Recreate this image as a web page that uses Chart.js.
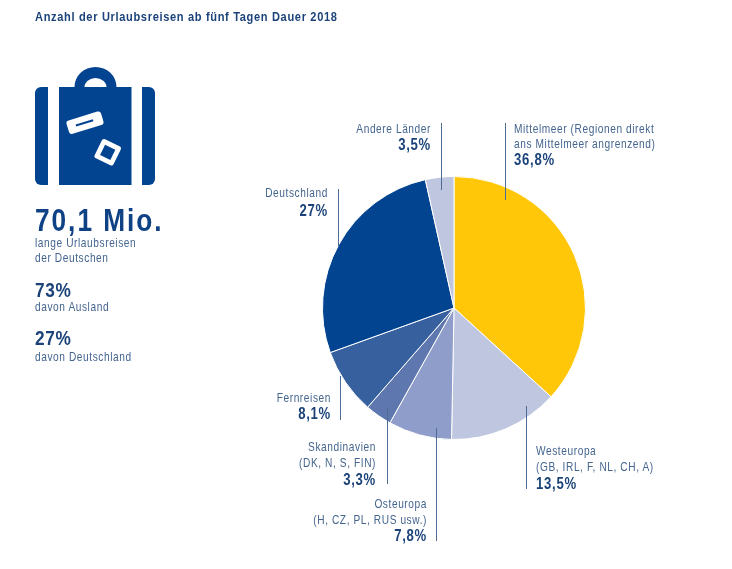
<!DOCTYPE html>
<html lang="de">
<head>
<meta charset="utf-8">
<title>Urlaubsreisen 2018</title>
<script src="https://cdn.jsdelivr.net/npm/chart.js@4"></script>
<style>
  html, body { margin: 0; padding: 0; background: #fff; }
  #page { position: relative; width: 732px; height: 569px; overflow: hidden; font-family: "Liberation Sans", sans-serif; }
  #pie { position: absolute; left: 0; top: 0; }
  .t { position: absolute; white-space: nowrap; color: #44658f; font-size: 13px; letter-spacing: 0.75px; line-height: 16px; transform-origin: left center; transform: translateY(-50%) scaleX(0.78); }
  .t.r { transform-origin: right center; transform: translate(-100%, -50%) scaleX(0.78); text-align: right; }
  .t.b { color: #1b4379; font-weight: bold; font-size: 16px; letter-spacing: 0.9px; transform: translateY(-50%) scaleX(0.82); }
  .t.r.b { transform: translate(-100%, -50%) scaleX(0.82); }
  svg { position: absolute; left: 0; top: 0; }
</style>
</head>
<body>
<div id="page">
  <canvas id="pie" width="732" height="569"></canvas>
  <svg width="200" height="200" viewBox="0 0 200 200">
    <path d="M74.5 87 A21 20 0 0 1 116.5 87 L106.500 87 A11 9 0 0 0 84.500 87 Z" fill="#034491"/>
    <path d="M48 87 V185 H41 A6 6 0 0 1 35 179 V93 A6 6 0 0 1 41 87 Z" fill="#034491"/>
    <rect x="59" y="87" width="72.5" height="98" fill="#034491"/>
    <path d="M142 87 H149 A6 6 0 0 1 155 93 V179 A6 6 0 0 1 149 185 H142 Z" fill="#034491"/>
    <g transform="rotate(-17 85 122.700)">
      <rect x="67" y="115.700" width="36" height="14" rx="3" fill="#fff"/>
      <rect x="75.500" y="121.700" width="18" height="2" fill="#034491"/>
    </g>
    <g transform="rotate(26 107.700 152.300)">
      <rect x="97.200" y="141.800" width="21" height="21" rx="2.500" fill="#fff"/>
      <rect x="102" y="146.600" width="11.400" height="11.400" fill="#034491"/>
    </g>
  </svg>
  <div id="texts"></div>
</div>
<script>
// Anteile der Reiseziele, im Uhrzeigersinn ab 12 Uhr
const regions = ['Mittelmeer', 'Westeuropa', 'Osteuropa', 'Skandinavien', 'Fernreisen', 'Deutschland', 'Andere Länder'];
const shares = [36.8, 13.5, 7.8, 3.3, 8.1, 27, 3.5];
const sliceColors = ['#ffc708', '#bfc6e0', '#8e9dc9', '#5f77af', '#37609f', '#034491', '#bfc6e0'];

// Hinweislinien: x, y von, y bis
const leaders = [
  [505, 123, 200],
  [526, 406, 489],
  [436, 428, 541],
  [387, 408, 484],
  [340, 376, 420],
  [338, 189, 246],
  [441, 123, 190]
];
const leaderColor = '#4d6c96';

// Beschriftungen: Text, x, y (Mitte), Klasse
const labels = [
  ['Anzahl der Urlaubsreisen ab fünf Tagen Dauer 2018', 35, 17, 'b title'],
  ['70,1 Mio.', 35, 220, 'b big'],
  ['lange Urlaubsreisen', 35, 243, ''],
  ['der Deutschen', 35, 258, ''],
  ['73%', 35, 290, 'b mid'],
  ['davon Ausland', 35, 307, ''],
  ['27%', 35, 338, 'b mid'],
  ['davon Deutschland', 35, 357, ''],
  ['Andere Länder', 431, 129, 'r'],
  ['3,5%', 431, 145, 'r b'],
  ['Mittelmeer (Regionen direkt', 514, 129, ''],
  ['ans Mittelmeer angrenzend)', 514, 144, ''],
  ['36,8%', 514, 160, 'b'],
  ['Deutschland', 328, 193, 'r'],
  ['27%', 328, 211, 'r b'],
  ['Fernreisen', 331, 398, 'r'],
  ['8,1%', 331, 414, 'r b'],
  ['Skandinavien', 376, 447, 'r'],
  ['(DK, N, S, FIN)', 376, 463, 'r'],
  ['3,3%', 376, 480, 'r b'],
  ['Osteuropa', 427, 504, 'r'],
  ['(H, CZ, PL, RUS usw.)', 427, 520, 'r'],
  ['7,8%', 427, 536, 'r b'],
  ['Westeuropa', 536, 451, ''],
  ['(GB, IRL, F, NL, CH, A)', 536, 467, ''],
  ['13,5%', 536, 484, 'b']
];

const box = document.getElementById('texts');
labels.forEach(([text, x, y, cls]) => {
  const el = document.createElement('div');
  el.className = 't ' + cls;
  el.textContent = text;
  el.style.left = x + 'px';
  el.style.top = y + 'px';
  if (cls.includes('title')) { el.style.fontSize = '13.5px'; el.style.letterSpacing = '0.8px'; }
  if (cls.includes('big')) { el.style.fontSize = '32px'; el.style.letterSpacing = '2.4px'; el.style.lineHeight = '36px'; el.style.color = '#0f4285'; }
  if (cls.includes('mid')) { el.style.fontSize = '21px'; el.style.letterSpacing = '0.8px'; el.style.lineHeight = '24px'; }
  box.appendChild(el);
});

const leaderPlugin = {
  id: 'leaderLines',
  afterDatasetsDraw(chart) {
    const ctx = chart.ctx;
    ctx.save();
    ctx.strokeStyle = leaderColor;
    ctx.lineWidth = 1;
    leaders.forEach(([x, y1, y2]) => {
      ctx.beginPath();
      ctx.moveTo(x + 0.5, y1);
      ctx.lineTo(x + 0.5, y2);
      ctx.stroke();
    });
    ctx.restore();
  }
};

new Chart(document.getElementById('pie'), {
  type: 'pie',
  data: {
    labels: regions,
    datasets: [{
      data: shares,
      backgroundColor: sliceColors,
      borderColor: '#ffffff',
      borderWidth: 1
    }]
  },
  options: {
    responsive: false,
    animation: false,
    layout: { padding: { left: 322, right: 146, top: 176, bottom: 129 } },
    plugins: { legend: { display: false }, tooltip: { enabled: false } }
  },
  plugins: [leaderPlugin]
});
</script>
</body>
</html>
